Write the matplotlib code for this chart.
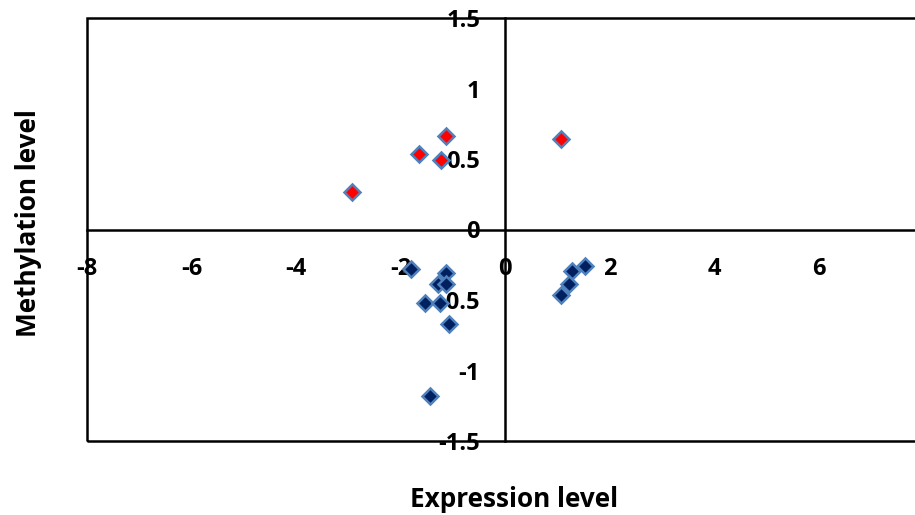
import matplotlib
matplotlib.use("Agg")
import matplotlib.pyplot as plt
from matplotlib.ticker import FuncFormatter
from matplotlib.patches import Rectangle

# Data
hyper_x = [-1.13, -1.64, -1.22, -2.92, 1.08]
hyper_y = [0.663, 0.533, 0.49, 0.266, 0.64]
hypo_x = [-1.79, -1.12, -1.29, -1.12, -1.53, -1.24, -1.07, -1.44, 1.53, 1.28, 1.22, 1.07]
hypo_y = [-0.282, -0.31, -0.389, -0.389, -0.524, -0.524, -0.672, -1.18, -0.259, -0.294, -0.389, -0.467]
x_ticks = [-8, -6, -4, -2, 0, 2, 4, 6]
y_ticks = [-1.5, -1, -0.5, 0, 0.5, 1, 1.5]
x_label = "Expression level"
y_label = "Methylation level"

plt.rcParams['font.family'] = ['Open Sans', 'DejaVu Sans']
plt.rcParams['font.weight'] = 'bold'
plt.rcParams['axes.unicode_minus'] = False

W, H = 915, 515
fig = plt.figure(figsize=(W / 100, H / 100), dpi=100)
left, right, top, bottom = 87, 923, 18, 441
ax = fig.add_axes([left / W, (H - bottom) / H, (right - left) / W, (bottom - top) / H])
ax.set_xlim(-8, 8)
ax.set_ylim(-1.5, 1.5)

edge = '#4F81BD'
ax.plot(hypo_x, hypo_y, linestyle='none', marker='D', markersize=8,
        markerfacecolor='#002060', markeredgecolor=edge, markeredgewidth=1.8, zorder=5, clip_on=False)
ax.plot(hyper_x, hyper_y, linestyle='none', marker='D', markersize=8,
        markerfacecolor='#FF0000', markeredgecolor=edge, markeredgewidth=1.8, zorder=5, clip_on=False)

# axes crossing at zero
ax.spines['bottom'].set_position(('data', 0))
ax.spines['left'].set_position(('data', 0))
for s in ['bottom', 'left']:
    ax.spines[s].set_linewidth(1.8)
    ax.spines[s].set_color('black')
for s in ['top', 'right']:
    ax.spines[s].set_visible(False)
ax.add_patch(Rectangle((0, 0), 1, 1, transform=ax.transAxes, fill=False,
                       edgecolor='black', linewidth=1.8, clip_on=False, zorder=1))

ax.set_xticks(x_ticks)
ax.set_yticks(y_ticks)
fmt = FuncFormatter(lambda v, p: '%g' % v)
ax.xaxis.set_major_formatter(fmt)
ax.yaxis.set_major_formatter(fmt)
ax.tick_params(axis='both', length=0, labelsize=17)
ax.tick_params(axis='x', pad=19.5)
ax.tick_params(axis='y', pad=18)

fig.text(514 / W, 1 - 507 / H, x_label, ha='center', va='baseline', fontsize=18.8, fontweight='bold')
fig.text(29 / W, 1 - 223 / H, y_label, ha='center', va='center', rotation=90, fontsize=18.8, fontweight='bold')

fig.savefig('out.png', dpi=100)
